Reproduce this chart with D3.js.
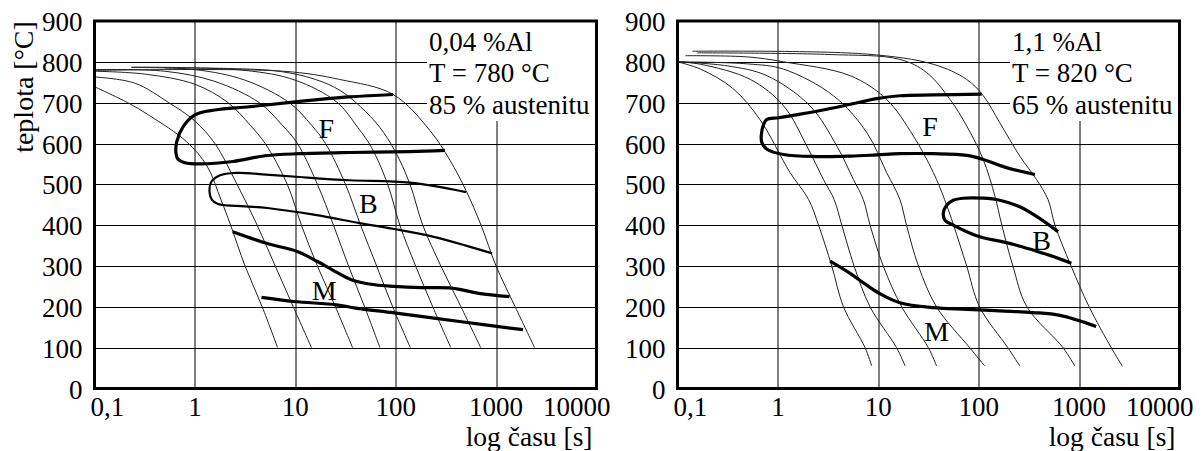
<!DOCTYPE html>
<html>
<head>
<meta charset="utf-8">
<script src="https://cdn.jsdelivr.net/npm/d3@7"></script>
<style>
  body { margin: 0; background: #fff; }
  svg { display: block; font-family: "Liberation Serif", "Times New Roman", serif; }
</style>
</head>
<body>
<svg id="chart" width="1203" height="451"></svg>
<script>
// axis values shared by both diagrams
const timeTicks = [0.1, 1, 10, 100, 1000, 10000];
const timeTickLabels = ["0,1", "1", "10", "100", "1000", "10000"];
const timeGrid = [1, 10, 100, 1000];
const tempTicks = [0, 100, 200, 300, 400, 500, 600, 700, 800, 900];
const tempGrid = [100, 200, 300, 400, 500, 600, 700, 800];
const xTitle = "log času [s]";
const yTitle = "teplota [°C]";

// left diagram: 0,04 %Al, [time s, temperature °C]
const leftNotes = ["0,04 %Al", "T = 780 °C", "85 % austenitu"];
const leftCooling = [
    [[0.1, 739], [0.214, 700], [0.355, 668], [0.83, 604], [1.32, 545], [1.82, 462], [2.27, 400], [3.16, 300], [4.68, 200], [6.67, 100]],
    [[0.1, 763], [0.251, 748], [0.55, 700], [1, 655], [1.58, 600], [2.63, 500], [4.17, 400], [6.31, 300], [9.55, 200], [14.5, 100]],
    [[0.1, 777], [0.316, 770], [1, 745], [2.14, 700], [3.55, 645], [5.01, 600], [8.32, 500], [11.5, 400], [16.6, 300], [25.1, 200], [37.2, 100]],
    [[0.1, 781], [0.501, 777], [1.58, 752], [4.37, 700], [7.41, 645], [10.5, 600], [16.6, 500], [24, 400], [33.9, 300], [49, 200], [69.7, 100]],
    [[0.234, 786], [1, 781], [3.16, 755], [8.71, 700], [14.5, 645], [20, 600], [31.6, 500], [44.7, 400], [64.6, 300], [93.3, 200], [140, 100]],
    [[0.234, 787], [3.16, 779], [10, 755], [25.7, 702], [41.7, 640], [57.5, 590], [83.2, 500], [110, 400], [158, 300], [234, 200], [354, 100]],
    [[0.501, 785], [6.31, 778], [15.8, 757], [27.9, 730], [44.7, 690], [69.2, 640], [97.7, 583], [138, 502], [186, 400], [282, 300], [447, 200], [703, 100]],
    [[0.1, 779], [7.59, 777], [27.5, 757], [94.4, 720], [219, 632], [347, 559], [501, 485], [708, 400], [1000, 300], [1549, 200], [2421, 100]]
];
const leftFerrite = [[94.4, 720], [34.7, 714], [10, 702], [3.47, 690], [1.58, 682], [1, 670], [0.759, 640], [0.661, 605],
    [0.646, 580], [0.676, 562], [0.794, 553], [1.12, 550], [2.4, 556], [5.01, 570], [11, 575], [34.7, 578], [138, 580], [309, 583]];
const leftBainite = [[501, 481], [138, 504], [34.7, 510], [11, 518], [5.13, 524], [2.57, 528], [1.78, 522], [1.45, 505],
    [1.4, 480], [1.48, 462], [1.7, 452], [3.16, 446], [5.25, 442], [15.8, 425], [43.7, 405], [100, 390], [234, 372], [501, 350], [912, 331]];
const leftMartensiteTop = [[2.38, 384], [5.25, 355], [10.6, 335], [16.6, 311], [23.6, 290], [36.6, 266], [62.1, 254],
    [96.6, 250], [179, 247], [363, 246], [671, 233], [1361, 225]];
const leftMartensiteBottom = [[4.6, 223], [9.73, 213], [25.7, 205], [39.8, 197], [96.6, 185], [432, 164], [1854, 144]];
const leftLabels = [["F", 20.3, 637], ["B", 53.3, 453], ["M", 19.4, 241]];

// right diagram: 1,1 %Al
const rightNotes = ["1,1 %Al", "T = 820 °C", "65 % austenitu"];
const rightCooling = [
    [[0.1, 800], [0.17, 782], [0.355, 735], [0.661, 659], [1.32, 529], [2.02, 463], [2.54, 400], [3.44, 300], [4.5, 200], [7.38, 100], [8.61, 55]],
    [[0.1, 800], [0.17, 794], [0.531, 757], [1.14, 692], [1.94, 594], [2.84, 512], [3.63, 463], [4.33, 400], [5.74, 300], [8.28, 200], [15.2, 100], [18.5, 55]],
    [[0.1, 800], [0.316, 790], [0.778, 766], [2.09, 692], [3.86, 594], [5.65, 512], [7.08, 463], [8.28, 400], [11.2, 300], [17.1, 200], [31.5, 100], [38.1, 55]],
    [[0.1, 800], [0.501, 795], [1.14, 782], [3.57, 717], [7.67, 627], [12.1, 529], [16.4, 463], [19.1, 400], [25.1, 300], [38, 200], [81.3, 100], [115, 55]],
    [[0.12, 815], [0.501, 812], [1.14, 800], [5.25, 766], [12.1, 708], [22.4, 618], [35.3, 529], [45.7, 463], [56.2, 400], [75.9, 300], [102, 200], [195, 100], [257, 55]],
    [[0.158, 822], [3.16, 818], [16.4, 806], [30.2, 774], [51.8, 708], [75.9, 643], [111, 561], [145, 471], [170, 400], [219, 300], [302, 200], [692, 100], [906, 55]],
    [[0.141, 826], [7.67, 819], [35.3, 794], [75.9, 757], [111, 717], [162, 651], [257, 569], [376, 512], [490, 463], [575, 400], [832, 300], [1259, 200], [2089, 100], [2692, 55]]
];
const rightFerrite = [[107, 721], [35.3, 719], [16.4, 717], [9.64, 710], [5.25, 696], [3.07, 684], [1.67, 672], [1.02, 663],
    [0.778, 659], [0.721, 647], [0.682, 618], [0.692, 602], [0.778, 586], [1.14, 573], [2.44, 568], [5.25, 569], [9.64, 572],
    [16.4, 575], [35.3, 575], [75.9, 571], [111, 561], [189, 541], [363, 524]];
const rightBainite = [[617, 384], [407, 416], [257, 445], [162, 461], [111, 466], [70.1, 466], [55.8, 461], [47.9, 449],
    [44.4, 429], [46.1, 412], [55.8, 400], [75.9, 384], [111, 369], [162, 361], [238, 351], [347, 339], [511, 326], [838, 307]];
const rightMartensite = [[3.31, 312], [5.24, 282], [7.67, 253], [10.4, 232], [16.4, 210], [35.3, 198], [75.9, 194],
    [162, 190], [347, 186], [646, 179], [1479, 152]];
const rightLabels = [["F", 32.7, 643], ["B", 422, 363], ["M", 38, 141]];

class CCTDiagram {
    constructor(svg, left, top, width = 502, height = 367.5) {
        this.svg = svg;
        this.left = left;
        this.top = top;
        this.width = width;
        this.height = height;
    }

    initialize() {
        this.container = d3.select(this.svg).append("g")
            .attr("transform", `translate(${this.left}, ${this.top})`);

        this.xScale = d3.scaleLog().domain([0.1, 10000]).range([0, this.width]);
        this.yScale = d3.scaleLinear().domain([0, 900]).range([this.height, 0]);

        this.line = d3.line()
            .x(d => this.xScale(d[0]))
            .y(d => this.yScale(d[1]))
            .curve(d3.curveCatmullRom.alpha(0.5));
    }

    update(data) {
        const g = this.container;
        const crisp = v => Math.round(v) + 0.5;

        g.selectAll(".hgrid")
            .data(tempGrid)
            .join("line")
            .attr("class", "hgrid")
            .attr("x1", 0).attr("x2", this.width)
            .attr("y1", d => crisp(this.yScale(d)))
            .attr("y2", d => crisp(this.yScale(d)))
            .attr("stroke", "#000").attr("stroke-width", 1);

        g.selectAll(".vgrid")
            .data(timeGrid)
            .join("line")
            .attr("class", "vgrid")
            .attr("x1", d => crisp(this.xScale(d))).attr("x2", d => crisp(this.xScale(d)))
            .attr("y1", 0).attr("y2", this.height)
            .attr("stroke", "#000").attr("stroke-width", 1);

        // white box behind the notes hides the grid
        const noteX = 334.5;
        g.append("rect")
            .attr("x", noteX - 2).attr("y", 0)
            .attr("width", this.width - noteX + 2).attr("height", 100)
            .attr("fill", "#fff");

        g.selectAll(".cooling")
            .data(data.cooling)
            .join("path")
            .attr("class", "cooling")
            .attr("d", this.line)
            .attr("fill", "none")
            .attr("stroke", "#222")
            .attr("stroke-width", 1);

        g.selectAll(".phase")
            .data(data.phases)
            .join("path")
            .attr("class", "phase")
            .attr("d", d => this.line(d.points))
            .attr("fill", "none")
            .attr("stroke", "#000")
            .attr("stroke-width", d => d.width)
            .attr("stroke-linejoin", "round")
            .attr("stroke-linecap", "butt");

        g.selectAll(".region")
            .data(data.labels)
            .join("text")
            .attr("class", "region")
            .attr("x", d => this.xScale(d[1]))
            .attr("y", d => this.yScale(d[2]))
            .attr("dy", "0.35em")
            .attr("text-anchor", "middle")
            .style("font-size", "28px")
            .text(d => d[0]);

        g.selectAll(".note")
            .data(data.notes)
            .join("text")
            .attr("class", "note")
            .attr("x", noteX)
            .attr("y", (d, i) => 30 + i * 31.3)
            .style("font-size", "27px")
            .text(d => d);

        g.selectAll(".ylab")
            .data(tempTicks)
            .join("text")
            .attr("class", "ylab")
            .attr("x", -12)
            .attr("y", d => this.yScale(d) + 10)
            .attr("text-anchor", "end")
            .style("font-size", "27px")
            .text(d => d);

        g.selectAll(".xlab")
            .data(timeTicks)
            .join("text")
            .attr("class", "xlab")
            .attr("x", (d, i) => i === 0 ? -4 : i === timeTicks.length - 1 ? this.xScale(d) + 14 : this.xScale(d))
            .attr("y", this.height + 27.5)
            .attr("text-anchor", (d, i) => i === 0 ? "start" : i === timeTicks.length - 1 ? "end" : "middle")
            .style("font-size", "27px")
            .text((d, i) => timeTickLabels[i]);

        g.append("text")
            .attr("x", this.width - 4)
            .attr("y", this.height + 57)
            .attr("text-anchor", "end")
            .style("font-size", "27.5px")
            .text(xTitle);

        if (data.yTitle) {
            g.append("text")
                .attr("transform", `translate(-61.5, 66) rotate(-90)`)
                .attr("text-anchor", "middle")
                .style("font-size", "28px")
                .text(data.yTitle);
        }

        g.append("rect")
            .attr("x", 0).attr("y", 0)
            .attr("width", this.width).attr("height", this.height)
            .attr("fill", "none")
            .attr("stroke", "#000")
            .attr("stroke-width", 3);
    }
}

d3.select("#chart").append("rect")
    .attr("width", 1203).attr("height", 451).attr("fill", "#fff");

const leftChart = new CCTDiagram(document.getElementById("chart"), 94.5, 21);
leftChart.initialize();
leftChart.update({
    cooling: leftCooling,
    phases: [
        { points: leftFerrite, width: 3.2 },
        { points: leftBainite, width: 2.2 },
        { points: leftMartensiteTop, width: 3.2 },
        { points: leftMartensiteBottom, width: 3.2 }
    ],
    labels: leftLabels,
    notes: leftNotes,
    yTitle: yTitle
});

const rightChart = new CCTDiagram(document.getElementById("chart"), 677.5, 21);
rightChart.initialize();
rightChart.update({
    cooling: rightCooling,
    phases: [
        { points: rightFerrite, width: 3.2 },
        { points: rightBainite, width: 3.2 },
        { points: rightMartensite, width: 3.2 }
    ],
    labels: rightLabels,
    notes: rightNotes,
    yTitle: null
});
</script>
</body>
</html>
